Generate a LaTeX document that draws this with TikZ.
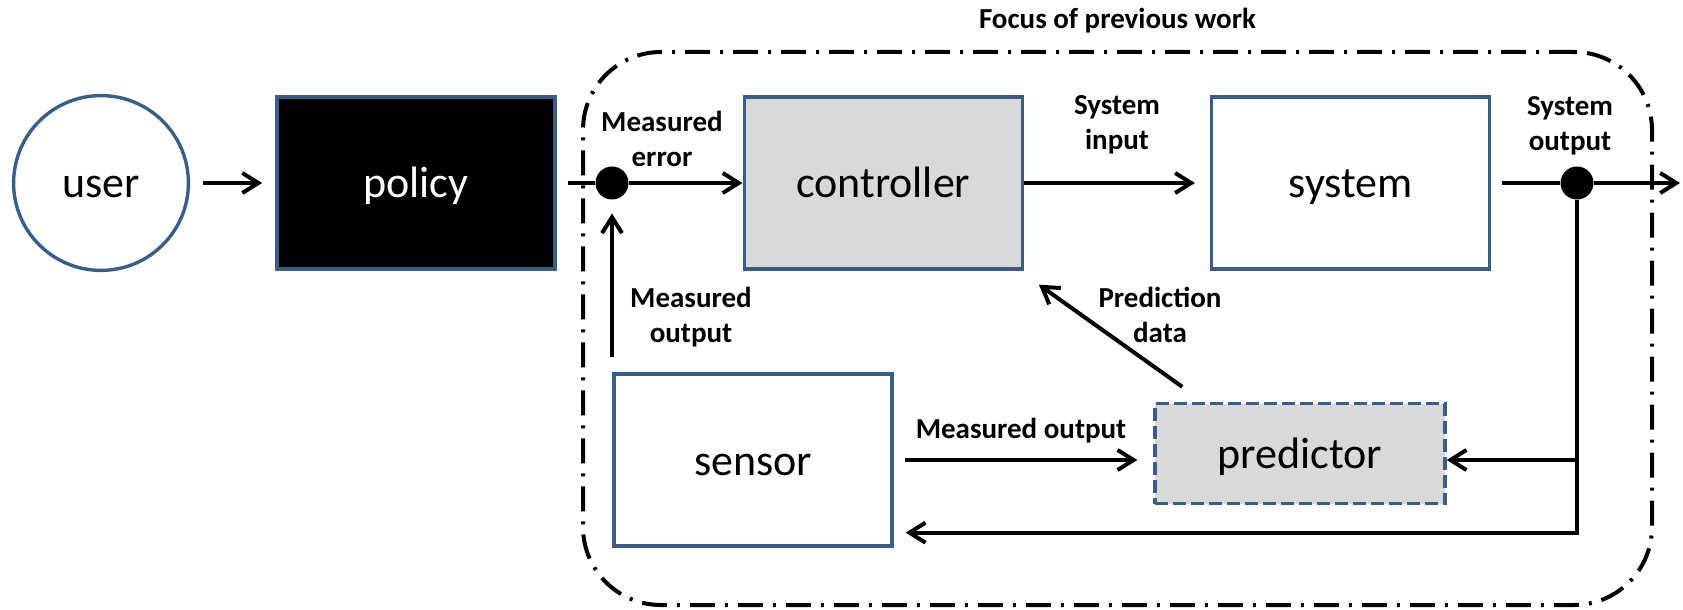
\documentclass[tikz,border=0pt]{standalone}
\usepackage{fontspec}
\setmainfont{Carlito}
\usepackage{tikz}
\usetikzlibrary{arrows.meta, positioning}

\definecolor{blockblue}{RGB}{56,93,138}
\definecolor{blockgray}{RGB}{217,217,217}
\newcommand\blockfont{\fontsize{22}{26}\selectfont}
\newcommand\lblfont{\fontsize{14.5}{17.5}\selectfont\bfseries}

\begin{document}
\begin{tikzpicture}[
        x=0.5pt, y=-0.5pt,
        block/.style={draw=blockblue, line width=1.7pt, rectangle, font=\blockfont,
            minimum width=139pt, minimum height=86pt, inner sep=0pt,
            text height=20pt, text depth=5pt},
        dot/.style={circle, fill=black, minimum size=16.5pt, inner sep=0pt},
        lbl/.style={font=\lblfont, align=center, inner sep=0pt},
        wire/.style={line width=2pt},
        arr/.style={wire, -{Straight Barb[length=8pt, width=10pt]}},
        focus/.style={draw, line width=2pt, rounded corners=39pt,
            dash pattern=on 12.5pt off 5pt on 1.5pt off 5pt},
    ]
    \useasboundingbox (0,0) rectangle (1683,610);

    % frame round the feedback loop
    \node[focus, minimum width=534.5pt, minimum height=276.5pt,
        label={[lbl, label distance=8.5pt]above:Focus of previous work}] (prev) at (1117.5,328.5) {};

    \node[block, circle, minimum size=87.4pt, fill=white] (user) at (101,183) {user};
    \node[block, fill=black, text=white, right=42.5pt of user] (policy) {policy};
    \node[block, fill=blockgray, right=93pt of policy] (controller) {controller};
    \node[block, fill=white, right=93pt of controller] (system) {system};
    \node[block, fill=white] (sensor) at (753,460) {sensor};
    \node[block, fill=blockgray, dash pattern=on 6.5pt off 2.5pt,
        minimum width=145pt, minimum height=50pt] (predictor) at (1300,453.5) {predictor};

    \node[dot] (dot1) at (612,183) {};
    \node[dot] (dot2) at (1577,183) {};
    \coordinate (out) at (1680,183);

    \draw[arr, shorten <=6.5pt, shorten >=6.5pt] (user) -- (policy);
    \draw[wire, shorten <=5.5pt] (policy) -- (dot1);
    \draw[arr] (dot1) -- (controller);
    \draw[arr, shorten >=7.5pt] (controller) -- (system);
    \draw[wire, shorten <=5.5pt] (system) -- (dot2);
    \draw[arr] (dot2) -- (out);
    \draw[arr, shorten <=7.5pt, shorten >=6.75pt] (sensor.north -| dot1) -- (dot1);
    \draw[arr, shorten <=5.5pt, shorten >=8pt] (sensor) -- (sensor -| predictor.west);
    \draw[arr] (dot2 |- sensor) -- (predictor.east |- sensor);
    \draw[arr, shorten >=6pt] (dot2) |- ([yshift=7.5pt]sensor.south east);
    \draw[arr] ([xshift=14.5pt, yshift=7.5pt]predictor.north west) -- ([xshift=7.5pt, yshift=-7pt]controller.south east);

    \node[lbl] (err-lbl) at (662,139) {Measured\\error};
    \node[lbl] (in-lbl) at (1117,125) {System\\input};
    \node[lbl] (out-lbl) at (1570,126) {System\\output};
    \node[lbl] (meas-lbl) at (691,317) {Measured\\output};
    \node[lbl] (pred-lbl) at (1160,315) {Prediction\\data};
    \node[lbl] (sense-lbl) at (1021,431) {Measured output};
\end{tikzpicture}
\end{document}
